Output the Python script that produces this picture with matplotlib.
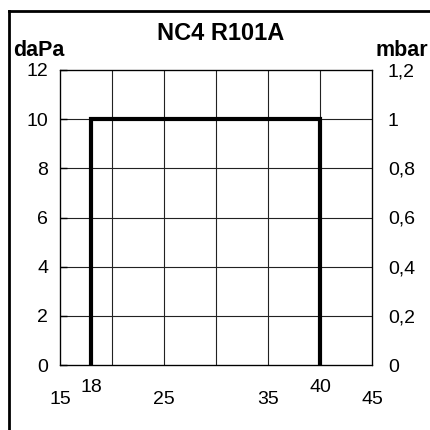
import matplotlib
matplotlib.use('Agg')
import matplotlib.pyplot as plt
from matplotlib.lines import Line2D
import matplotlib.transforms as mtransforms

plt.rcParams['font.family'] = ['Liberation Sans', 'DejaVu Sans']

# curve in daPa vs flow
flow = [18, 18, 40, 40]
pressure_dapa = [0, 10, 10, 0]

x_major = [15, 25, 35, 45]
x_marked = [18, 40]
y_left_ticks = [0, 2, 4, 6, 8, 10, 12]
y_right_labels = ['0', '0,2', '0,4', '0,6', '0,8', '1', '1,2']

fig = plt.figure(figsize=(4.3, 4.3), dpi=100)
ax = fig.add_axes([60 / 430, 1 - 365 / 430, 312 / 430, 295 / 430])

ax.set_xlim(15, 45)
ax.set_ylim(0, 12)

# grid
for gx in [20, 25, 30, 35, 40]:
    ax.axvline(gx, color='#222222', lw=0.8, zorder=1)
for gy in [2, 4, 6, 8, 10]:
    ax.axhline(gy, color='#222222', lw=0.8, zorder=1)

ax.plot(flow, pressure_dapa, color='black', lw=3, solid_joinstyle='miter', zorder=3)

for s in ax.spines.values():
    s.set_linewidth(0.9)

fs = 14
ax.set_xticks([])
ax.set_yticks(y_left_ticks)
ax.set_yticklabels([str(v) for v in y_left_ticks], fontsize=fs)
ax.tick_params(axis='y', length=5, width=1, direction='in', pad=8.5)

ax2 = ax.twinx()
ax2.set_ylim(0, 12)
ax2.set_yticks(y_left_ticks)
ax2.set_yticklabels(y_right_labels, fontsize=fs)
ax2.tick_params(axis='y', length=0, pad=11.5)

trans = mtransforms.blended_transform_factory(ax.transData, ax.transAxes)
for v in x_major:
    ax.text(v, 0, str(v), transform=mtransforms.offset_copy(trans, fig=fig, y=-35 * 0.72, units='points'),
            ha='center', va='center', fontsize=fs)
for v in x_marked:
    ax.text(v, 0, str(v), transform=mtransforms.offset_copy(trans, fig=fig, y=-23 * 0.72, units='points'),
            ha='center', va='center', fontsize=fs)

fig.text(221 / 430, 1 - 33 / 430, 'NC4 R101A', ha='center', va='center',
         fontsize=17, fontweight='bold')
fig.text(13 / 430, 1 - 51 / 430, 'daPa', ha='left', va='center',
         fontsize=15.5, fontweight='bold')
fig.text(428 / 430, 1 - 51 / 430, 'mbar', ha='right', va='center',
         fontsize=15.5, fontweight='bold')

# outer frame (top and left only)
fig.add_artist(Line2D([9 / 430, 1], [1 - 11 / 430, 1 - 11 / 430], color='black', lw=2))
fig.add_artist(Line2D([9 / 430, 9 / 430], [1 - 11 / 430, 0], color='black', lw=2))

fig.savefig('out.png', dpi=100)
